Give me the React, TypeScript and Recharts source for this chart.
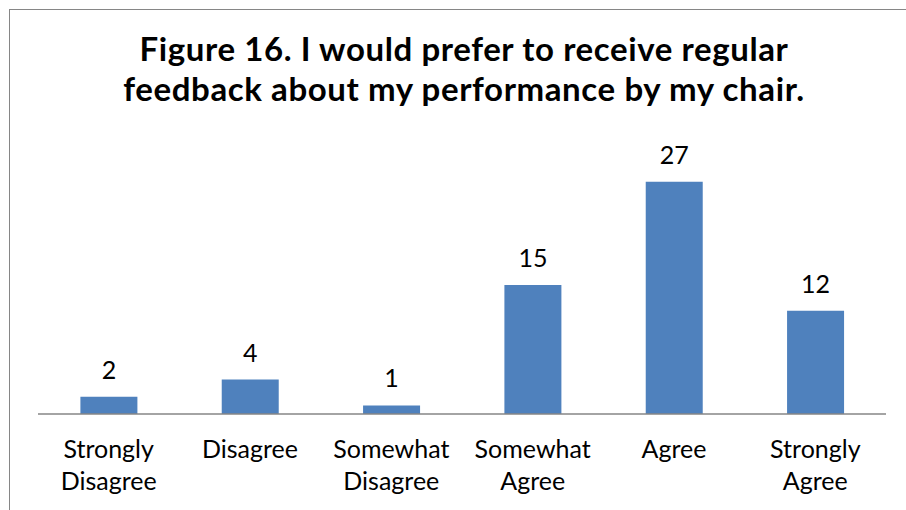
import React from 'react';
import { BarChart, Bar, XAxis, YAxis, LabelList } from 'recharts';

const categories = ['Strongly Disagree', 'Disagree', 'Somewhat Disagree', 'Somewhat Agree', 'Agree', 'Strongly Agree'];
const responses = [2, 4, 1, 15, 27, 12];
const titleLines = ['Figure 16. I would prefer to receive regular', 'feedback about my performance by my chair.'];

const data = categories.map((name, i) => ({ name, value: responses[i] }));

const FONT = 'Lato, "Open Sans", sans-serif';

// tick labels wrap onto two lines like the original
const WrappedTick = ({ x, y, payload }: any) => {
  const words = String(payload.value).split(' ');
  return (
    <text x={x} y={y} textAnchor="middle" fill="#000" fontSize={25} fontFamily={FONT}>
      {words.map((w, i) => (
        <tspan key={i} x={x} dy={i === 0 ? 44 : 32}>
          {w}
        </tspan>
      ))}
    </text>
  );
};

export default function App() {
  return (
    <div style={{ position: 'absolute', left: 0, top: 0, width: 906, height: 510, overflow: 'hidden', background: '#fff' }}>
      {/* chart frame: only top and left edges are visible */}
      <div
        style={{
          position: 'absolute',
          left: 9,
          top: 9,
          width: 1000,
          height: 600,
          borderLeft: '1px solid #868686',
          borderTop: '1px solid #868686',
        }}
      />
      <div
        style={{
          position: 'absolute',
          left: 11,
          top: 28,
          width: 906,
          textAlign: 'center',
          fontFamily: FONT,
          fontWeight: 700,
          fontSize: 33,
          letterSpacing: 0.6,
          lineHeight: '40px',
          color: '#000',
        }}
      >
        {titleLines.map((t) => (
          <div key={t}>{t}</div>
        ))}
      </div>
      <div style={{ position: 'absolute', left: 0, top: 0 }}>
        <BarChart width={906} height={510} data={data} margin={{ top: 156, right: 20, bottom: 0, left: 38 }} barCategoryGap="30%">
          <XAxis
            dataKey="name"
            height={96}
            interval={0}
            tickLine={false}
            tickSize={0}
            tickMargin={0}
            axisLine={{ stroke: '#868686', strokeWidth: 1.5 }}
            tick={<WrappedTick />}
          />
          <YAxis hide domain={[0, 30]} />
          <Bar dataKey="value" fill="#4F81BD" isAnimationActive={false}>
            <LabelList dataKey="value" position="top" offset={18} fill="#000" fontSize={25} fontFamily={FONT} />
          </Bar>
        </BarChart>
      </div>
    </div>
  );
}
